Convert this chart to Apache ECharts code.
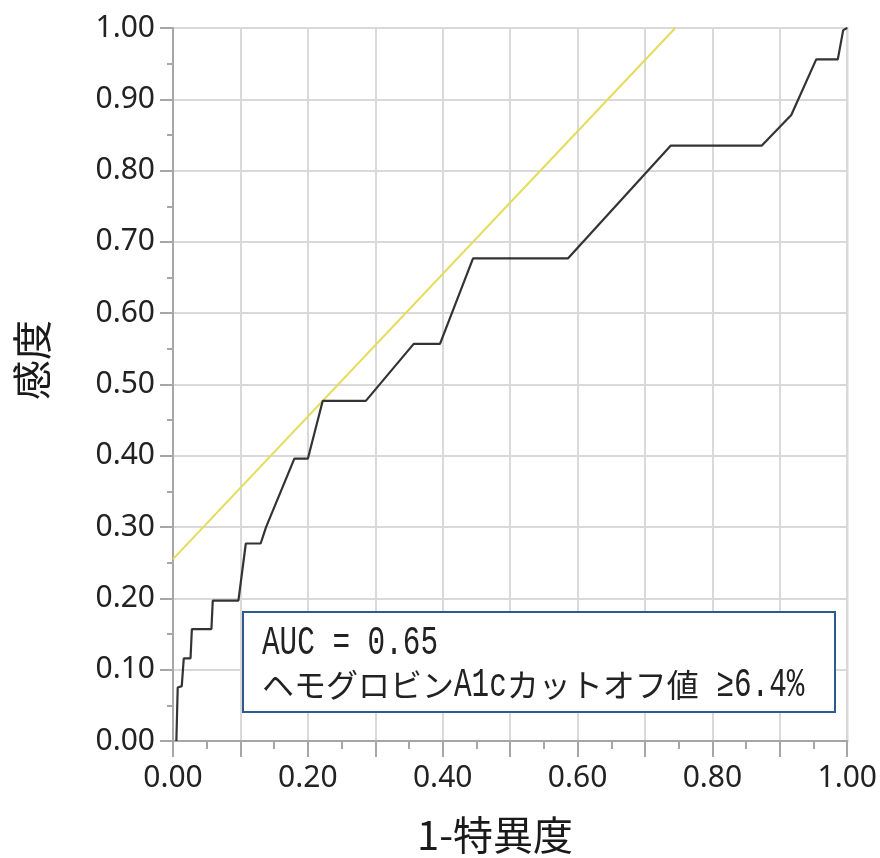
<!DOCTYPE html>
<html>
<head>
<meta charset="utf-8">
<script src="https://cdn.jsdelivr.net/npm/echarts@6/dist/echarts.min.js"></script>
<style>
  html, body { margin: 0; padding: 0; background: #fff; overflow: hidden; }
  #chart { width: 880px; height: 858px; }
</style>
</head>
<body>
<div id="chart"></div>
<script>
// ROC curve: 1 - specificity (x) against sensitivity (y)
const fpr = [0.005, 0.007, 0.013, 0.016, 0.026, 0.028, 0.057, 0.059, 0.097, 0.108,
             0.130, 0.138, 0.180, 0.200, 0.222, 0.286, 0.357, 0.396, 0.445, 0.586,
             0.738, 0.873, 0.917, 0.954, 0.986, 0.994, 1.000];
const tpr = [0.000, 0.075, 0.077, 0.116, 0.116, 0.157, 0.157, 0.197, 0.197, 0.277,
             0.277, 0.300, 0.396, 0.396, 0.477, 0.477, 0.557, 0.557, 0.677, 0.677,
             0.835, 0.835, 0.878, 0.956, 0.956, 0.997, 1.000];

// Tangent line through the optimal cut-off point (slope 1)
const tangentX = [0.000, 0.745];
const tangentY = [0.255, 1.000];

const xTitle = '1-特異度';
const yTitle = '感度';
// Annotation lines, split into half-width (latin) and full-width (kana/kanji) runs
const aucLine = [['AUC = 0.65', 'a']];
const cutoffLine = [['ヘモグロビン', 'j'], ['A1c', 'a'], ['カットオフ値', 'j'], [' ≥6.4%', 'a']];

const rocData = fpr.map((x, i) => [x, tpr[i]]);
const tangentData = tangentX.map((x, i) => [x, tangentY[i]]);

const AXIS_GRAY = '#a6a6a6';
const GRID_GRAY = '#d9d9d9';
const TEXT = '#222222';
const LABEL_FONT = '"Noto Sans", "DejaVu Sans", sans-serif';
const CJK_FONT = '"Noto Sans CJK JP", sans-serif';
const MONO_FONT = '"Liberation Mono", "DejaVu Sans Mono", monospace';

// Half-width runs are drawn in a tall, narrowed monospace; full-width runs 1em per glyph
const FULL_W = 32;        // px per full-width glyph
const HALF_W = 17.6;      // px per half-width glyph
const MONO_SIZE = 40;
const MONO_SCALE = HALF_W / (0.6 * MONO_SIZE);

function textRun(runs, x0, yMid) {
  const out = [];
  let x = x0;
  runs.forEach(([txt, kind]) => {
    if (kind === 'j') {
      out.push({
        type: 'text', z: 11, x: x, y: yMid,
        style: { text: txt, fontFamily: CJK_FONT, fontSize: FULL_W, fill: TEXT,
                 textAlign: 'left', textVerticalAlign: 'middle' }
      });
      x += txt.length * FULL_W;
    } else {
      out.push({
        type: 'text', z: 11, x: x, y: yMid, scaleX: MONO_SCALE,
        style: { text: txt, fontFamily: MONO_FONT, fontSize: MONO_SIZE, fill: TEXT,
                 textAlign: 'left', textVerticalAlign: 'middle' }
      });
      x += txt.length * HALF_W;
    }
  });
  return out;
}

const chart = echarts.init(document.getElementById('chart'), null, { renderer: 'canvas' });

chart.setOption({
  animation: false,
  backgroundColor: '#ffffff',
  grid: {
    left: 173, right: 29, top: 28, bottom: 117,
    show: true, borderColor: AXIS_GRAY, borderWidth: 2, backgroundColor: 'transparent'
  },
  xAxis: {
    type: 'value', min: 0, max: 1, interval: 0.1,
    axisLine: { show: true, lineStyle: { color: AXIS_GRAY, width: 2 } },
    axisTick: { show: true, length: 16, lineStyle: { color: AXIS_GRAY, width: 2 } },
    minorTick: { show: true, splitNumber: 2, length: 8, lineStyle: { color: AXIS_GRAY, width: 2 } },
    splitLine: { show: true, lineStyle: { color: GRID_GRAY, width: 2 } },
    axisLabel: {
      margin: 22, fontFamily: LABEL_FONT, fontSize: 30, color: TEXT,
      formatter: v => (Math.round(v * 10) % 2 === 0 ? v.toFixed(2) : '')
    }
  },
  yAxis: {
    type: 'value', min: 0, max: 1, interval: 0.1,
    axisLine: { show: true, lineStyle: { color: AXIS_GRAY, width: 2 } },
    axisTick: { show: true, length: 13, lineStyle: { color: AXIS_GRAY, width: 2 } },
    minorTick: { show: true, splitNumber: 2, length: 6, lineStyle: { color: AXIS_GRAY, width: 2 } },
    splitLine: { show: true, lineStyle: { color: GRID_GRAY, width: 2 } },
    axisLabel: {
      margin: 18, fontFamily: LABEL_FONT, fontSize: 30, color: TEXT,
      formatter: v => v.toFixed(2)
    }
  },
  series: [
    {
      name: 'tangent', type: 'line', data: tangentData,
      showSymbol: false, silent: true, z: 3,
      lineStyle: { color: '#e4dc5a', width: 2 }
    },
    {
      name: 'ROC', type: 'line', data: rocData,
      showSymbol: false, silent: true, z: 4,
      lineStyle: { color: '#333333', width: 2.2 }
    }
  ],
  graphic: [
    // axis titles
    {
      type: 'text', x: 495, y: 835,
      style: { text: xTitle, fontFamily: CJK_FONT, fontSize: 40, fill: '#1a1a1a',
               textAlign: 'center', textVerticalAlign: 'middle' }
    },
    {
      type: 'text', x: 32, y: 360, rotation: Math.PI / 2,
      style: { text: yTitle, fontFamily: CJK_FONT, fontSize: 40, fill: '#1a1a1a',
               textAlign: 'center', textVerticalAlign: 'middle' }
    },
    // annotation box
    {
      type: 'rect', z: 10,
      shape: { x: 243, y: 612, width: 592, height: 100 },
      style: { fill: '#ffffff', stroke: '#2e5a8f', lineWidth: 2 }
    },
    ...textRun(aucLine, 262, 643),
    ...textRun(cutoffLine, 262, 685)
  ]
});
</script>
</body>
</html>
